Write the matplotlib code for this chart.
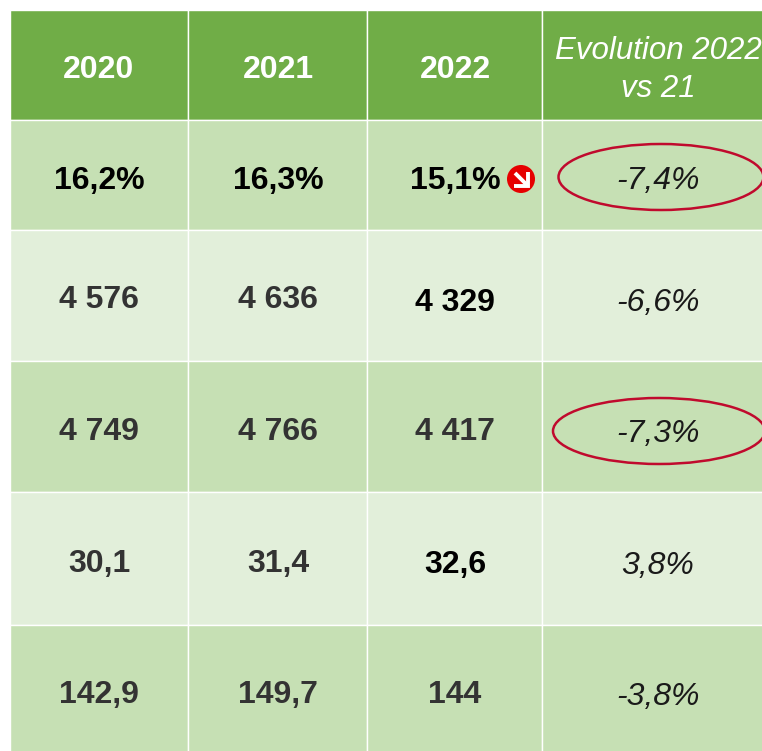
import matplotlib
matplotlib.use("Agg")
import matplotlib.pyplot as plt
from matplotlib.patches import Rectangle, Ellipse, Circle

plt.rcParams['font.family'] = ['Liberation Sans', 'DejaVu Sans']

# Table content
years = ["2020", "2021", "2022"]
evolution_title = "Evolution 2022\nvs 21"
col_2020 = ["16,2%", "4 576", "4 749", "30,1", "142,9"]
col_2021 = ["16,3%", "4 636", "4 766", "31,4", "149,7"]
col_2022 = ["15,1%", "4 329", "4 417", "32,6", "144"]
evolution = ["-7,4%", "-6,6%", "-7,3%", "3,8%", "-3,8%"]

# Text colours per row (black = emphasised)
colors_2020 = ["black", "#333333", "#333333", "#333333", "#333333"]
colors_2022 = ["black", "black", "#333333", "black", "#333333"]

# Layout in pixels
col_edges = [10, 188, 367, 542, 770]
row_edges = [120, 230, 361, 492, 625, 760]
header_top = 10
col_centers = [99, 278, 455, 658]
y_main = [181, 300, 432, 564, 695]
y_2022 = [181, 303, 432, 565, 695]
y_evol = [181, 303, 434, 566, 697]

green = "#70AD47"
row_colors = ["#C6E0B4", "#E2EFDA", "#C6E0B4", "#E2EFDA", "#C6E0B4"]

fig = plt.figure(figsize=(7.62, 7.51), dpi=100)
ax = fig.add_axes([0, 0, 1, 1])
ax.set_xlim(0, 762)
ax.set_ylim(751, 0)
ax.axis("off")

# Header cells
for i in range(4):
    ax.add_patch(Rectangle((col_edges[i], header_top), col_edges[i+1] - col_edges[i], row_edges[0] - header_top,
                           facecolor=green, edgecolor="white", lw=1))

# Body cells
for r in range(5):
    for i in range(4):
        ax.add_patch(Rectangle((col_edges[i], row_edges[r]), col_edges[i+1] - col_edges[i], row_edges[r+1] - row_edges[r],
                               facecolor=row_colors[r], edgecolor="white", lw=1))

# Header text
for i in range(3):
    ax.text(col_centers[i], 70, years[i], color="white", fontsize=23, fontweight="bold", ha="center", va="center")
ax.text(658, 70, evolution_title, color="white", fontsize=22.5, style="italic", ha="center", va="center", linespacing=1.36)

# Body text
for r in range(5):
    ax.text(col_centers[0], y_main[r], col_2020[r], color=colors_2020[r], fontsize=23, fontweight="bold", ha="center", va="center")
    ax.text(col_centers[1], y_main[r], col_2021[r], color=colors_2020[r], fontsize=23, fontweight="bold", ha="center", va="center")
    ax.text(col_centers[2], y_2022[r], col_2022[r], color=colors_2022[r], fontsize=23, fontweight="bold", ha="center", va="center")
    ax.text(col_centers[3], y_evol[r], evolution[r], color="#1a1a1a", fontsize=23, style="italic", ha="center", va="center")

# Red ovals around the biggest drops
ax.add_patch(Ellipse((661, 177), 205, 66, facecolor="none", edgecolor="#C00A2D", lw=1.8, clip_on=False))
ax.add_patch(Ellipse((659, 431), 212, 66, facecolor="none", edgecolor="#C00A2D", lw=1.8, clip_on=False))

# Down arrow icon
ax.add_patch(Circle((521, 179), 14, facecolor="#E60000", edgecolor="none"))
ax.plot([515, 527], [173, 185], color="white", lw=2.8, solid_capstyle="butt")
ax.plot([514, 527.5, 527.5], [185.5, 185.5, 172], color="white", lw=2.8, solid_joinstyle="miter", solid_capstyle="butt")

fig.savefig("out.png", dpi=100)
